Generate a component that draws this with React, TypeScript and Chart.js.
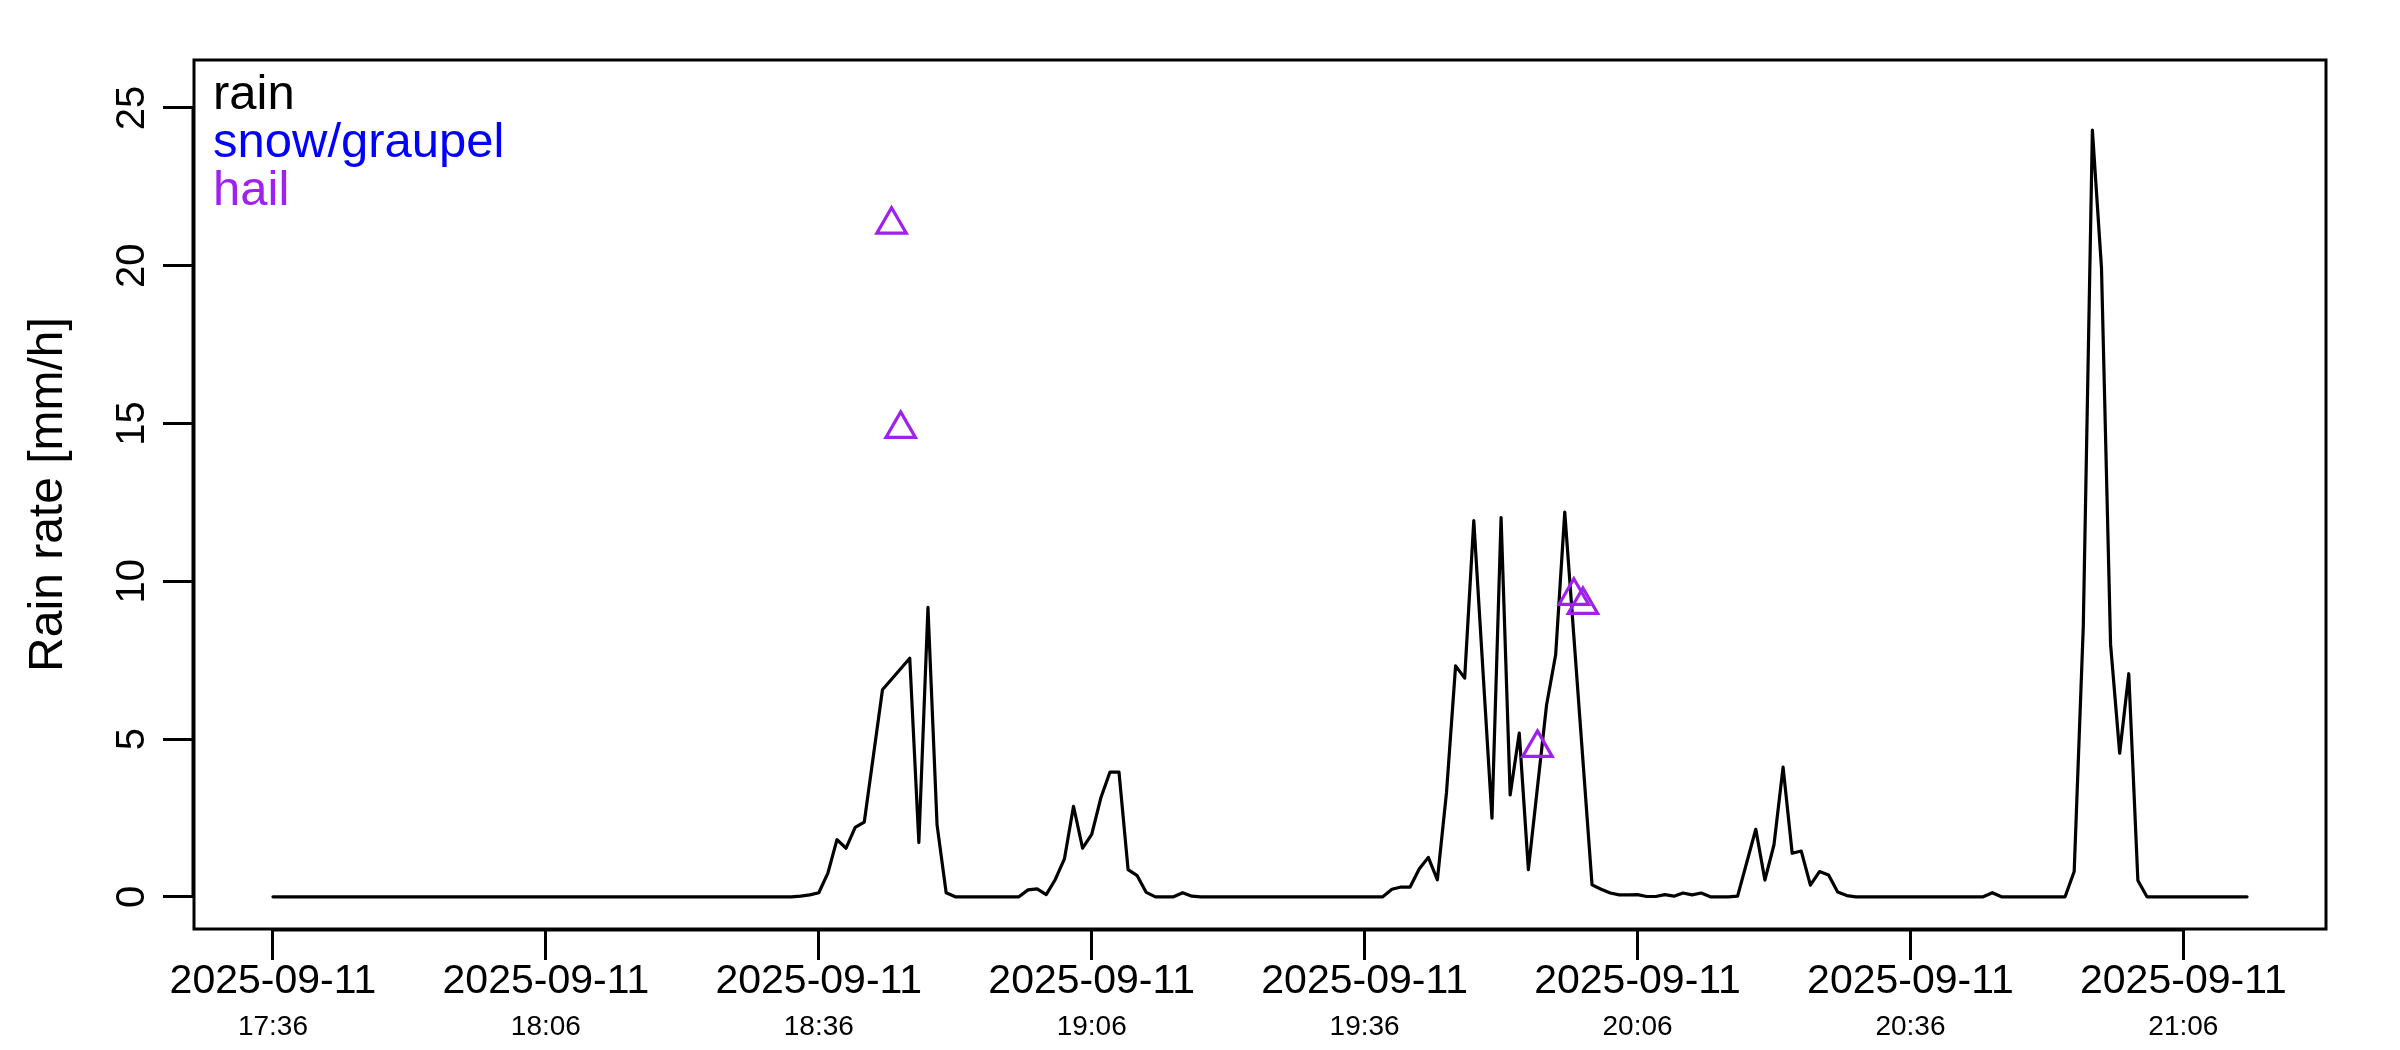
import React, { useEffect, useRef } from "react";
import { Chart, registerables } from "chart.js";

Chart.register(...registerables);

// minute offset from 17:36 is the array index
const rainRate: (number | null)[] = [
  0, 0, 0, 0, 0, 0, 0, 0, 0, 0,
  0, 0, 0, 0, 0, 0, 0, 0, 0, 0,
  0, 0, 0, 0, 0, 0, 0, 0, 0, 0,
  0, 0, 0, 0, 0, 0, 0, 0, 0, 0,
  0, 0, 0, 0, 0, 0, 0, 0, 0, 0,
  0, 0, 0, 0, 0, 0, 0, 0, 0.02, 0.06,
  0.13, 0.75, 1.81, 1.54, 2.2, 2.37, null, 6.56, null, null,
  7.56, 1.72, 9.17, 2.28, 0.13, 0, 0, 0, 0, 0,
  0, 0, 0, 0.22, 0.25, 0.07, 0.55, 1.2, 2.87, 1.54,
  1.98, 3.13, 3.95, 3.95, 0.86, 0.67, 0.14, 0, 0, 0,
  0.13, 0.02, 0, 0, 0, 0, 0, 0, 0, 0,
  0, 0, 0, 0, 0, 0, 0, 0, 0, 0,
  0, 0, 0, 0.24, 0.31, 0.31, 0.88, 1.25, 0.54, 3.3,
  7.32, 6.93, 11.92, null, 2.49, 12.02, 3.23, 5.19, 0.86, null,
  6.08, 7.67, 12.19, null, null, 0.38, 0.24, 0.12, 0.06, 0.06,
  0.07, 0.01, 0.01, 0.07, 0.02, 0.12, 0.06, 0.12, 0, 0,
  0, 0.02, null, 2.14, 0.53, 1.65, 4.11, 1.38, 1.45, 0.37,
  0.8, 0.69, 0.15, 0.04, 0, 0, 0, 0, 0, 0,
  0, 0, 0, 0, 0, 0, 0, 0, 0, 0.13,
  0, 0, 0, 0, 0, 0, 0, 0, 0.8, 8.57,
  24.3, 19.93, 8.0, 4.55, 7.07, 0.52, 0, 0, 0, 0,
  0, 0, 0, 0, 0, 0, 0, 0,
];

const hailMinutes = [68, 69, 139, 143, 144];
const hailRate = [21.3, 14.83, 4.72, 9.54, 9.25];

const snowMinutes: number[] = [];
const snowRate: number[] = [];

const xTickMinutes = [0, 30, 60, 90, 120, 150, 180, 210];
const xTickDates = [
  "2025-09-11", "2025-09-11", "2025-09-11", "2025-09-11",
  "2025-09-11", "2025-09-11", "2025-09-11", "2025-09-11",
];
const xTickTimes = ["17:36", "18:06", "18:36", "19:06", "19:36", "20:06", "20:36", "21:06"];
const yTicks = [0, 5, 10, 15, 20, 25];

const yTitle = "Rain rate [mm/h]";
const legendLabels = ["rain", "snow/graupel", "hail"];
const legendColors = ["#000000", "#0000FF", "#A020F0"];

const FONT = '"Liberation Sans", Arial, Helvetica, sans-serif';

const rPlugin = {
  id: "rStyle",
  afterDraw(chart: any) {
    const { ctx, chartArea: a, scales } = chart;
    const x = scales.x;
    const y = scales.y;
    ctx.save();
    // box
    ctx.strokeStyle = "#000";
    ctx.lineWidth = 3;
    ctx.strokeRect(a.left, a.top, a.right - a.left, a.bottom - a.top);
    // axis lines (first to last tick), overlapping the box like R does
    ctx.lineCap = "butt";
    ctx.beginPath();
    ctx.moveTo(x.getPixelForValue(xTickMinutes[0]), a.bottom + 1);
    ctx.lineTo(x.getPixelForValue(xTickMinutes[xTickMinutes.length - 1]), a.bottom + 1);
    ctx.moveTo(a.left - 1, y.getPixelForValue(yTicks[0]));
    ctx.lineTo(a.left - 1, y.getPixelForValue(yTicks[yTicks.length - 1]));
    ctx.stroke();

    ctx.fillStyle = "#000";
    ctx.textAlign = "center";
    ctx.textBaseline = "alphabetic";
    // y tick labels (rotated)
    ctx.font = `40px ${FONT}`;
    yTicks.forEach((v) => {
      const py = y.getPixelForValue(v);
      ctx.save();
      ctx.translate(a.left - 50, py);
      ctx.rotate(-Math.PI / 2);
      ctx.fillText(String(v), 0, 0);
      ctx.restore();
    });
    // y title
    ctx.font = `48px ${FONT}`;
    ctx.save();
    ctx.translate(62, (a.top + a.bottom) / 2);
    ctx.rotate(-Math.PI / 2);
    ctx.fillText(yTitle, 0, 0);
    ctx.restore();
    // x labels
    xTickMinutes.forEach((m, i) => {
      const px = x.getPixelForValue(m);
      ctx.font = `41px ${FONT}`;
      ctx.fillText(xTickDates[i], px, a.bottom + 64);
      ctx.font = `28px ${FONT}`;
      ctx.fillText(xTickTimes[i], px, a.bottom + 106);
    });
    // legend (text only)
    ctx.textAlign = "left";
    ctx.font = `49px ${FONT}`;
    legendLabels.forEach((t, i) => {
      ctx.fillStyle = legendColors[i];
      ctx.fillText(t, a.left + 19, a.top + 49 + i * 48);
    });
    ctx.restore();
  },
};

export default function App() {
  const canvasRef = useRef<HTMLCanvasElement | null>(null);

  useEffect(() => {
    if (!canvasRef.current) return;
    const nPts = rainRate.length;
    const span = nPts - 1;
    const pad = span * 0.04;

    const chart = new Chart(canvasRef.current, {
      type: "line",
      data: {
        datasets: [
          {
            label: "rain",
            data: rainRate.map((v, i) => ({ x: i, y: v })),
            borderColor: "#000000",
            borderWidth: 3.2,
            pointRadius: 0,
            tension: 0,
            spanGaps: true,
            borderJoinStyle: "round",
            borderCapStyle: "round",
            fill: false,
            order: 2,
          } as any,
          {
            label: "snow/graupel",
            data: snowMinutes.map((m, i) => ({ x: m, y: snowRate[i] })),
            showLine: false,
            pointStyle: "triangle",
            pointRadius: 17,
            borderColor: "#0000FF",
            backgroundColor: "rgba(0,0,0,0)",
            borderWidth: 3.2,
            order: 1,
          } as any,
          {
            label: "hail",
            data: hailMinutes.map((m, i) => ({ x: m, y: hailRate[i] })),
            showLine: false,
            pointStyle: "triangle",
            pointRadius: 17,
            pointHoverRadius: 17,
            borderColor: "#A020F0",
            backgroundColor: "rgba(0,0,0,0)",
            borderWidth: 3.2,
            order: 0,
          } as any,
        ],
      },
      options: {
        responsive: false,
        animation: false,
        devicePixelRatio: 1,
        events: [],
        layout: { padding: { left: 0, top: 60, right: 74, bottom: 0 } },
        plugins: {
          legend: { display: false },
          tooltip: { enabled: false },
          title: { display: false },
        },
        scales: {
          x: {
            type: "linear",
            position: "bottom",
            min: -pad,
            max: span + pad,
            afterBuildTicks: (scale: any) => {
              scale.ticks = xTickMinutes.map((v) => ({ value: v }));
            },
            afterFit: (scale: any) => {
              scale.height = 121;
            },
            ticks: { display: false },
            border: { display: false },
            grid: {
              display: true,
              drawOnChartArea: false,
              drawTicks: true,
              tickLength: 31,
              tickWidth: 3,
              tickColor: "#000",
              lineWidth: 3,
              color: "#000",
            },
          },
          y: {
            type: "linear",
            position: "left",
            min: -1.02,
            max: 26.52,
            afterBuildTicks: (scale: any) => {
              scale.ticks = yTicks.map((v) => ({ value: v }));
            },
            afterFit: (scale: any) => {
              scale.width = 194;
            },
            ticks: { display: false },
            border: { display: false },
            grid: {
              display: true,
              drawOnChartArea: false,
              drawTicks: true,
              tickLength: 31,
              tickWidth: 3,
              tickColor: "#000",
              lineWidth: 3,
              color: "#000",
            },
          },
        },
      } as any,
      plugins: [rPlugin],
    });
    return () => chart.destroy();
  }, []);

  return (
    <div
      style={{
        position: "absolute",
        left: 0,
        top: 0,
        width: 2400,
        height: 1050,
        background: "#ffffff",
      }}
    >
      <canvas ref={canvasRef} width={2400} height={1050} style={{ display: "block" }} />
    </div>
  );
}
